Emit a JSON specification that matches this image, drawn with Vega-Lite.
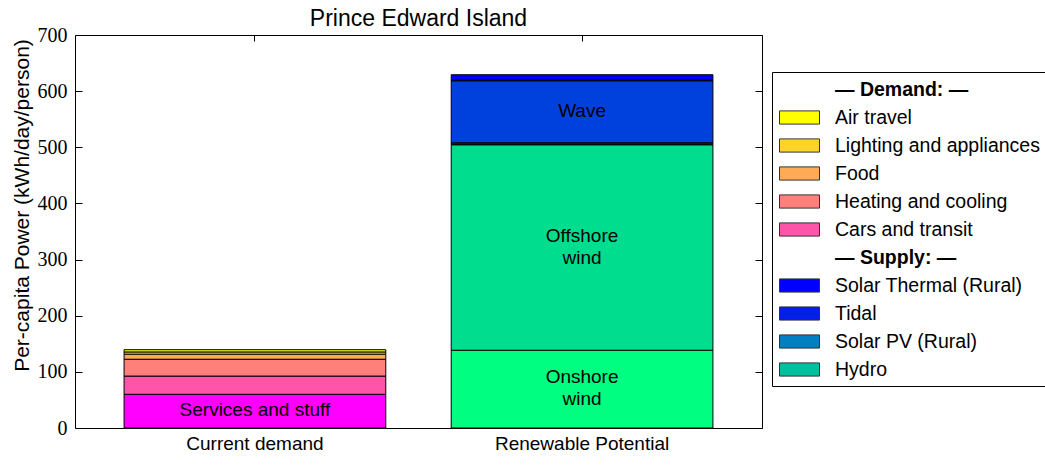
{
  "$schema": "https://vega.github.io/schema/vega-lite/v6.json",
  "autosize": "none",
  "width": 687,
  "height": 393,
  "padding": {"left": 75, "top": 35, "right": 283, "bottom": 38},
  "background": "white",
  "config": {
    "view": {"stroke": "black", "strokeWidth": 1},
    "axis": {"grid": false, "domain": false, "tickColor": "black", "tickWidth": 1, "labelColor": "black", "titleColor": "black"}
  },
  "title": {"text": "Prince Edward Island", "font": "Liberation Sans", "fontSize": 23, "fontWeight": "normal", "color": "black", "anchor": "middle", "frame": "group", "offset": -6},
  "data": {
    "values": [
      {"bar": "Current demand", "source": "Services and stuff", "value": 60, "seq": 1, "label": "Services and stuff"},
      {"bar": "Current demand", "source": "Cars and transit", "value": 32.5, "seq": 2, "label": ""},
      {"bar": "Current demand", "source": "Heating and cooling", "value": 30, "seq": 3, "label": ""},
      {"bar": "Current demand", "source": "Food", "value": 9, "seq": 4, "label": ""},
      {"bar": "Current demand", "source": "Lighting and appliances", "value": 4, "seq": 5, "label": ""},
      {"bar": "Current demand", "source": "Air travel", "value": 4, "seq": 6, "label": ""},
      {"bar": "Renewable Potential", "source": "Onshore wind", "value": 138.5, "seq": 1, "label": "Onshore\nwind"},
      {"bar": "Renewable Potential", "source": "Offshore wind", "value": 366, "seq": 2, "label": "Offshore\nwind"},
      {"bar": "Renewable Potential", "source": "Hydro", "value": 1.5, "seq": 3, "label": ""},
      {"bar": "Renewable Potential", "source": "Solar PV (Rural)", "value": 2, "seq": 4, "label": ""},
      {"bar": "Renewable Potential", "source": "Wave", "value": 110.5, "seq": 5, "label": "Wave"},
      {"bar": "Renewable Potential", "source": "Tidal", "value": 1, "seq": 6, "label": ""},
      {"bar": "Renewable Potential", "source": "Solar Thermal (Rural)", "value": 9.7, "seq": 7, "label": ""}
    ]
  },
  "transform": [
    {"stack": "value", "groupby": ["bar"], "sort": [{"field": "seq", "order": "ascending"}], "as": ["v0", "v1"]},
    {"calculate": "(datum.v0 + datum.v1) / 2", "as": "mid"}
  ],
  "resolve": {"axis": {"x": "independent", "y": "independent"}},
  "layer": [
    {
      "mark": {"type": "bar", "stroke": "black", "strokeWidth": 1},
      "encoding": {
        "x": {"field": "bar", "type": "nominal", "sort": ["Current demand", "Renewable Potential"],
          "scale": {"paddingInner": 0.2, "paddingOuter": 0.15},
          "axis": {"orient": "bottom", "title": null, "labelAngle": 0, "labelFont": "Liberation Sans", "labelFontSize": 19, "tickSize": -6, "labelPadding": 12}},
        "y": {"field": "v0", "type": "quantitative",
          "scale": {"domain": [0, 700], "nice": false, "zero": true},
          "axis": {"orient": "left", "values": [0, 100, 200, 300, 400, 500, 600, 700], "labelFont": "Liberation Serif", "labelFontSize": 20, "tickSize": -7, "labelPadding": 15,
            "title": "Per-capita Power (kWh/day/person)", "titleFont": "Liberation Sans", "titleFontSize": 21, "titleFontWeight": "normal", "titleX": -53, "titleY": 170, "titleAngle": -90, "titleBaseline": "middle", "titleAlign": "center"}},
        "y2": {"field": "v1"},
        "color": {"field": "source", "type": "nominal",
          "scale": {
            "domain": ["Services and stuff", "Cars and transit", "Heating and cooling", "Food", "Lighting and appliances", "Air travel", "Onshore wind", "Offshore wind", "Hydro", "Solar PV (Rural)", "Wave", "Tidal", "Solar Thermal (Rural)", "— Demand: —", "— Supply: —"],
            "range": ["#ff00ff", "#ff55a8", "#ff807a", "#ffaa55", "#ffd42a", "#ffff00", "#00ff80", "#00dd8f", "#00c0a0", "#0080c0", "#0040dd", "#0020e8", "#0000ff", "#ffffff", "#ffffff"]
          },
          "legend": {
            "title": null,
            "values": ["— Demand: —", "Air travel", "Lighting and appliances", "Food", "Heating and cooling", "Cars and transit", "— Supply: —", "Solar Thermal (Rural)", "Tidal", "Solar PV (Rural)", "Hydro"],
            "orient": "none", "legendX": 697, "legendY": 37,
            "strokeColor": "black", "fillColor": "white", "padding": 7, "cornerRadius": 0,
            "labelFont": "Liberation Sans", "labelFontSize": 19.5, "labelColor": "black", "labelOffset": 35, "labelLimit": 400,
            "symbolType": "M-1,-0.66H3V0.66H-1Z", "symbolSize": 400, "symbolStrokeColor": "#333", "symbolStrokeWidth": 1, "symbolOpacity": 1,
            "rowPadding": 8,
            "encode": {
              "symbols": {"update": {"opacity": {"signal": "indexof(datum.value, '—') === 0 ? 0 : 1"}}},
              "labels": {"update": {"fontWeight": {"signal": "indexof(datum.value, '—') === 0 ? 'bold' : 'normal'"}}}
            }
          }
        }
      }
    },
    {
      "transform": [{"filter": "datum.label !== '' && indexof(datum.label, '\\n') < 0"}],
      "mark": {"type": "text", "font": "Liberation Sans", "fontSize": 19, "color": "black", "baseline": "middle", "align": "center", "dy": -1},
      "encoding": {
        "x": {"field": "bar", "type": "nominal", "sort": ["Current demand", "Renewable Potential"],
          "axis": {"orient": "top", "title": null, "labels": false, "tickSize": -6}},
        "y": {"field": "mid", "type": "quantitative",
          "axis": {"orient": "right", "title": null, "labels": false, "tickSize": -7, "values": [0, 100, 200, 300, 400, 500, 600, 700]}},
        "text": {"field": "label", "type": "nominal"}
      }
    },
    {
      "transform": [{"filter": "indexof(datum.label, '\\n') >= 0"}],
      "mark": {"type": "text", "font": "Liberation Sans", "fontSize": 19, "color": "black", "baseline": "middle", "align": "center", "lineBreak": "\n", "lineHeight": 22, "dy": -12},
      "encoding": {
        "x": {"field": "bar", "type": "nominal", "sort": ["Current demand", "Renewable Potential"], "axis": null},
        "y": {"field": "mid", "type": "quantitative", "axis": null},
        "text": {"field": "label", "type": "nominal"}
      }
    }
  ]
}
